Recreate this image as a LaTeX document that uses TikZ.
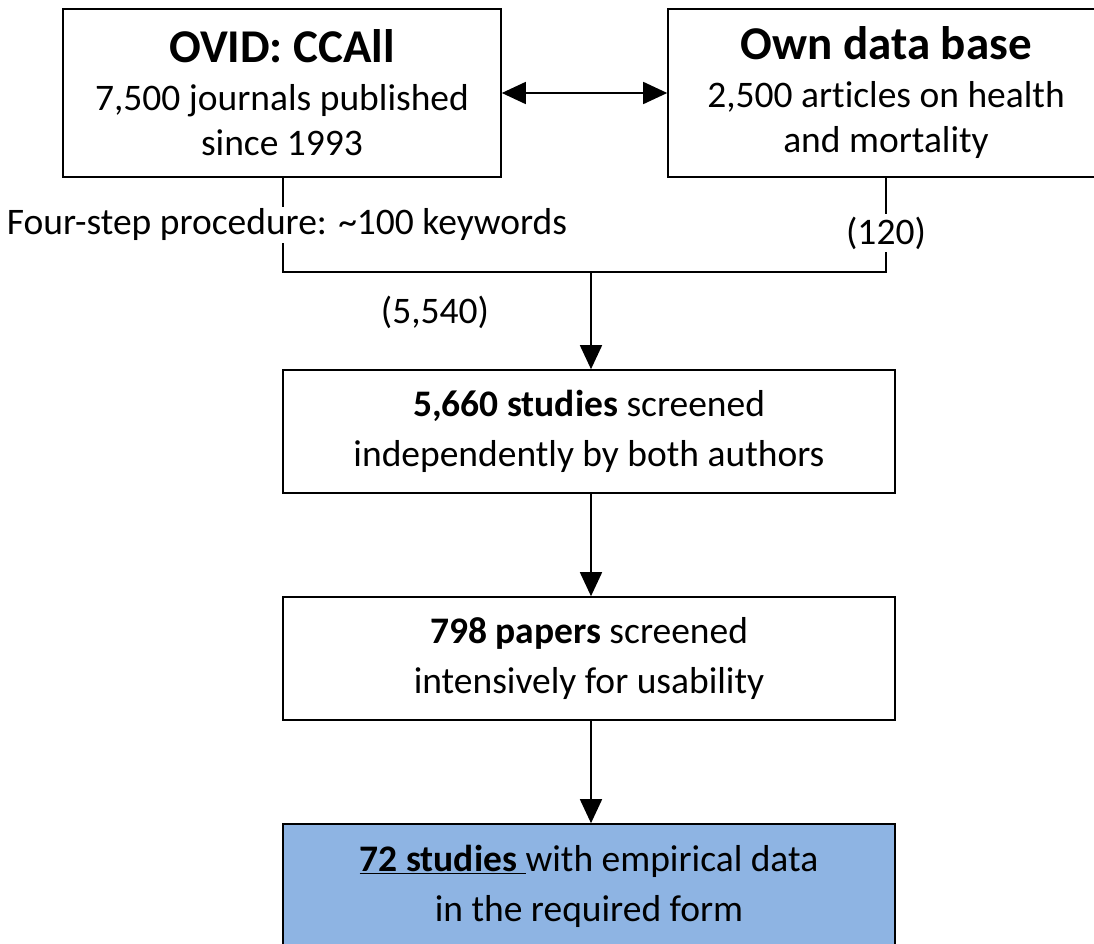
\documentclass[tikz,border=0pt]{standalone}
\usepackage{fontspec}
\setmainfont[RawFeature=-liga]{Carlito}
\usetikzlibrary{arrows.meta}
\tikzset{
  box/.style={draw=black, line width=1.6pt, fill=white, align=center, inner sep=0pt,
    font=\fontsize{37.5}{50}\selectfont},
  srcbox/.style={box, font=\fontsize{37.5}{45}\selectfont, minimum height=168pt},
  lbl/.style={inner sep=2pt, font=\fontsize{37.5}{43}\selectfont},
  conn/.style={line width=1.6pt},
  arr/.style={line width=1.6pt, -{Triangle[length=24pt,width=22pt]}},
  darr/.style={line width=1.6pt, {Triangle[length=24pt,width=22pt]}-{Triangle[length=24pt,width=22pt]}},
}
\newcommand{\ttltext}[1]{{\fontsize{47}{45}\selectfont\bfseries #1}}
\begin{document}
\begin{tikzpicture}[x=1pt,y=-1pt]
\useasboundingbox (0,0) rectangle (1094,944);
\begin{scope}
\clip (0,0) rectangle (1094,944);
\node[srcbox, minimum width=438pt] (ovid) at (282,93)
  {\ttltext{OVID: CCAll}\\[3pt]7,500 journals published\\since 1993};
\node[srcbox, minimum width=436pt] (own) at (886,93)
  {\ttltext{Own data base}\\[3pt]2,500 articles on health\\and mortality};
\node[lbl] (fs) at (287,225) {Four-step procedure: \textasciitilde100 keywords};
\node[lbl] (n120) at (886,233) {(120)};
\node[lbl] (n5540) at (435,312) {(5,540)};
\coordinate (j1) at (283,272);
\coordinate (j2) at (886,272);
\coordinate (mid) at (591,272);
\node[box, minimum width=612pt, minimum height=123pt] (b3) at (589,431.5)
  {\textbf{5,660 studies} screened\\independently by both authors};
\node[box, minimum width=612pt, minimum height=123pt] (b4) at (589,658.5)
  {\textbf{798 papers} screened\\intensively for usability};
\node[box, fill={rgb,255:red,142;green,180;blue,227}, minimum width=612pt, minimum height=124pt] (b5) at (589,886)
  {\underline{\textbf{72 studies }}with empirical data\\in the required form};
\draw[darr] (ovid.east) -- (own.west);
\draw[conn] (ovid.south -| j1) -- (j1 |- fs.north);
\draw[conn] (j1 |- fs.south) -- (j1) -- (j2) -- (n120.south);
\draw[conn] (own.south) -- (n120.north);
\draw[arr] (mid) -- (mid |- b3.north);
\draw[arr] (mid |- b3.south) -- (mid |- b4.north);
\draw[arr] (mid |- b4.south) -- (mid |- b5.north);
\end{scope}
\end{tikzpicture}
\end{document}
